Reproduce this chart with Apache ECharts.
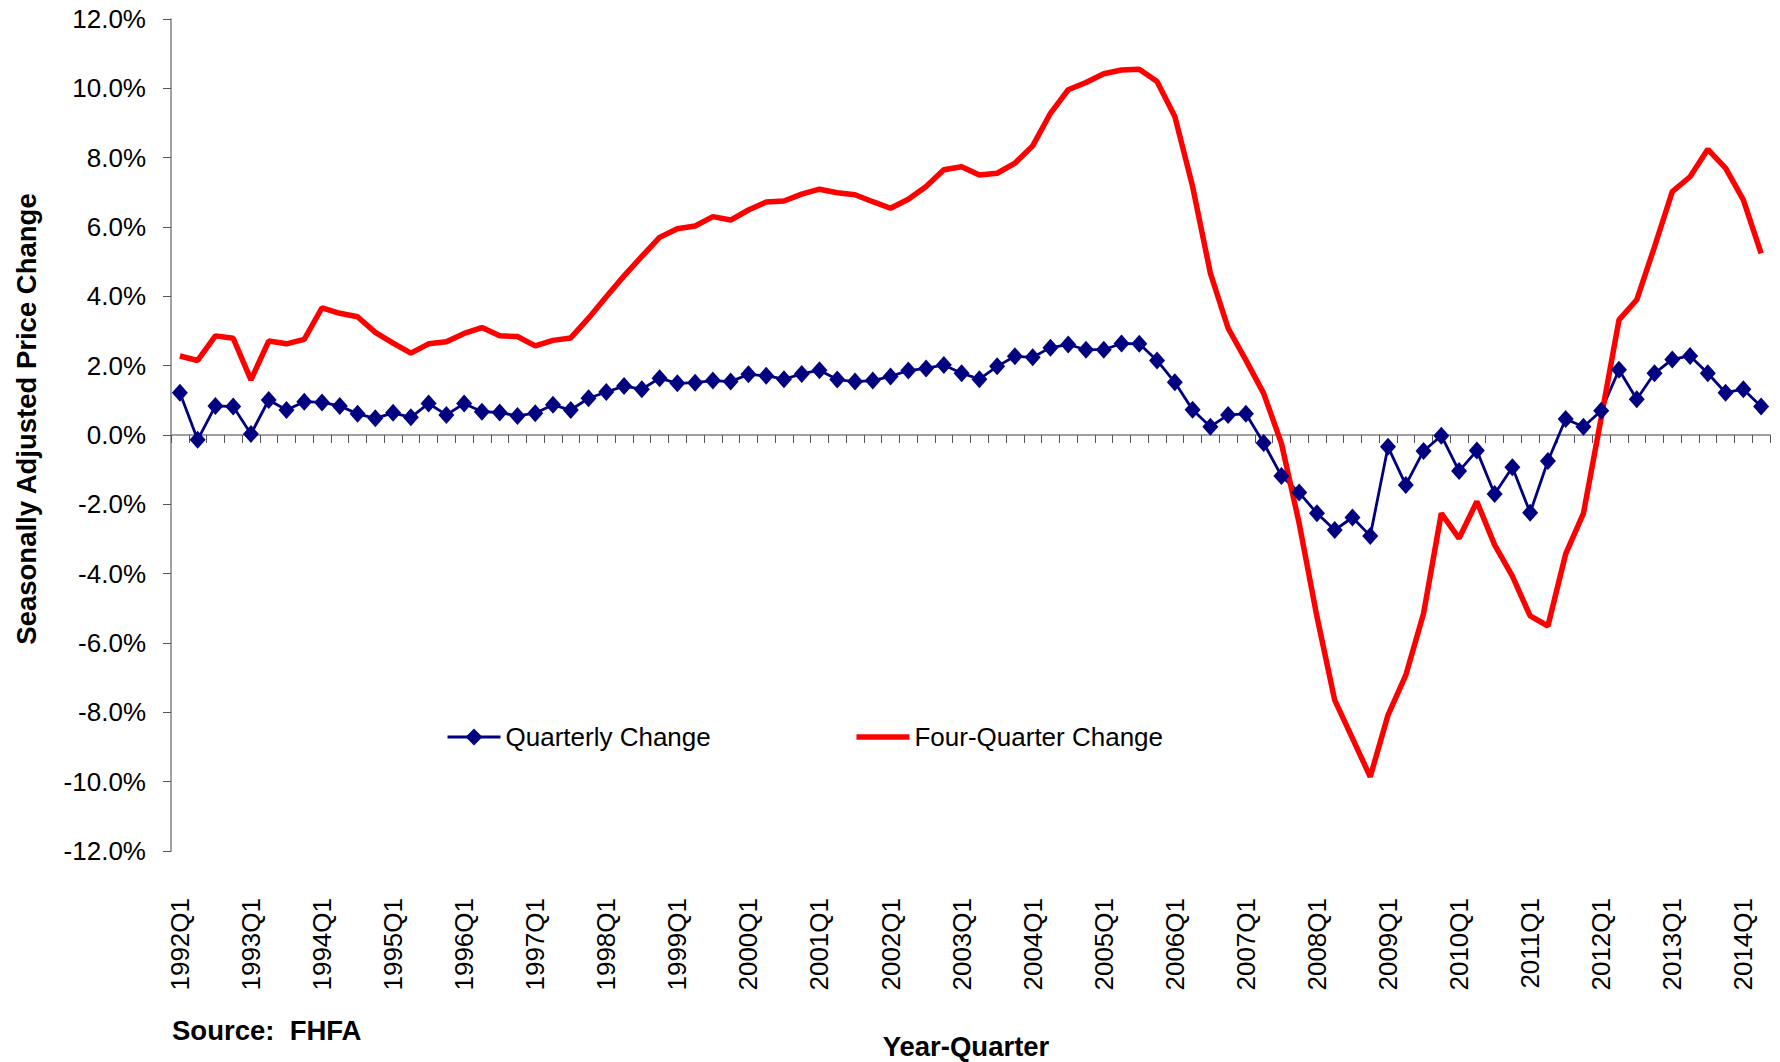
<!DOCTYPE html>
<html>
<head>
<meta charset="utf-8">
<script src="https://cdn.jsdelivr.net/npm/echarts@6/dist/echarts.min.js"></script>
<style>
html,body{margin:0;padding:0;background:#fff;}
#chart{width:1780px;height:1062px;}
</style>
</head>
<body>
<div id="chart"></div>
<script>
// Categories: 1992Q1 .. 2014Q2
var firstYear = 1992;
var lastYear = 2014;
var lastQuarter = 2;
var categories = [];
for (var y = firstYear; y <= lastYear; y++) {
  for (var q = 1; q <= 4; q++) {
    if (y === lastYear && q > lastQuarter) break;
    categories.push(y + 'Q' + q);
  }
}

// Quarterly change (%)
var quarterlyChange = [
  1.22, -0.14, 0.84, 0.82, 0.03, 1.01, 0.72, 0.96, 0.94, 0.84,
  0.61, 0.48, 0.64, 0.51, 0.91, 0.58, 0.91, 0.67, 0.65, 0.55,
  0.63, 0.87, 0.72, 1.06, 1.24, 1.41, 1.32, 1.64, 1.49, 1.51,
  1.57, 1.54, 1.75, 1.71, 1.61, 1.76, 1.87, 1.60, 1.54, 1.57,
  1.69, 1.86, 1.92, 2.02, 1.78, 1.61, 1.98, 2.27, 2.24, 2.52,
  2.61, 2.46, 2.46, 2.64, 2.63, 2.15, 1.52, 0.73, 0.24, 0.58,
  0.61, -0.23, -1.18, -1.66, -2.26, -2.74, -2.38, -2.91, -0.34, -1.44,
  -0.46, -0.02, -1.04, -0.45, -1.70, -0.93, -2.24, -0.75, 0.46, 0.24,
  0.70, 1.88, 1.03, 1.78, 2.18, 2.28, 1.78, 1.22, 1.32, 0.82
];

// Four-quarter change (%)
var fourQuarterChange = [
  2.28, 2.15, 2.86, 2.79, 1.59, 2.71, 2.63, 2.76, 3.67, 3.51,
  3.41, 2.96, 2.65, 2.36, 2.63, 2.69, 2.93, 3.10, 2.86, 2.84,
  2.57, 2.73, 2.80, 3.37, 3.99, 4.59, 5.15, 5.70, 5.95, 6.03,
  6.30, 6.20, 6.49, 6.72, 6.75, 6.95, 7.09, 6.99, 6.93, 6.73,
  6.54, 6.80, 7.17, 7.65, 7.74, 7.50, 7.55, 7.84, 8.34, 9.28,
  9.96, 10.17, 10.42, 10.53, 10.55, 10.20, 9.19, 7.17, 4.67, 3.08,
  2.16, 1.20, -0.24, -2.55, -5.24, -7.65, -8.75, -9.86, -8.08, -6.93,
  -5.15, -2.26, -2.98, -1.92, -3.17, -4.07, -5.22, -5.51, -3.43, -2.26,
  0.50, 3.32, 3.90, 5.43, 7.02, 7.45, 8.24, 7.70, 6.78, 5.24
];

var yMin = -12, yMax = 12, yStep = 2;
var seriesNames = ['Quarterly Change', 'Four-Quarter Change'];
var FONT = 'Liberation Sans, Arial, sans-serif';
var BLUE = '#000080', RED = '#ff0000';

var chart = echarts.init(document.getElementById('chart'), null, {renderer: 'svg'});
chart.setOption({
  animation: false,
  backgroundColor: '#ffffff',
  grid: {left: 171, right: 10, top: 19, bottom: 211, containLabel: false},
  legend: {
    left: 446, top: 724, padding: 0,
    itemWidth: 53, itemHeight: 21, itemGap: 143,
    textStyle: {fontFamily: FONT, fontSize: 26, color: '#000'},
    data: [
      {name: seriesNames[0], lineStyle: {width: 3, color: BLUE}},
      {name: seriesNames[1], lineStyle: {width: 5.5, color: RED},
        itemStyle: {opacity: 0, color: 'transparent', borderWidth: 0}}
    ]
  },
  xAxis: [{
    type: 'category', data: categories, boundaryGap: true, position: 'bottom',
    axisLine: {show: true, onZero: true, lineStyle: {color: '#808080', width: 1.5}},
    axisTick: {show: true, interval: 0, length: 8, inside: false, lineStyle: {color: '#555', width: 1}},
    axisLabel: {show: false},
    splitLine: {show: false}
  }, {
    type: 'category', data: categories, boundaryGap: true, position: 'bottom',
    axisLine: {show: false, onZero: false},
    axisTick: {show: false},
    axisLabel: {show: true, interval: 3, rotate: 90, margin: 47,
      fontFamily: FONT, fontSize: 26, color: '#000'},
    splitLine: {show: false}
  }],
  yAxis: {
    type: 'value', min: yMin, max: yMax, interval: yStep,
    axisLine: {show: true, lineStyle: {color: '#808080', width: 1.5}},
    axisTick: {show: true, length: 8, lineStyle: {color: '#555', width: 1}},
    axisLabel: {margin: 25, fontFamily: FONT, fontSize: 26, color: '#000',
      formatter: function (v) { return v.toFixed(1) + '%'; }},
    splitLine: {show: false}
  },
  series: [{
    name: seriesNames[0], type: 'line', xAxisIndex: 0,
    data: quarterlyChange,
    symbol: 'diamond', symbolSize: [16, 18], showAllSymbol: true,
    itemStyle: {color: BLUE},
    lineStyle: {color: BLUE, width: 2.8}
  }, {
    name: seriesNames[1], type: 'line', xAxisIndex: 0,
    data: fourQuarterChange,
    symbol: 'none', showSymbol: false,
    itemStyle: {color: RED},
    lineStyle: {color: RED, width: 5.5}
  }],
  graphic: [{
    type: 'text', x: 26, y: 419, rotation: Math.PI / 2,
    style: {text: 'Seasonally Adjusted Price Change', fill: '#000',
      font: 'bold 27.5px ' + FONT, textAlign: 'center', textVerticalAlign: 'middle'}
  }, {
    type: 'text', x: 172, y: 1030,
    style: {text: 'Source:  FHFA', fill: '#000',
      font: 'bold 27.5px ' + FONT, textAlign: 'left', textVerticalAlign: 'middle'}
  }, {
    type: 'text', x: 966, y: 1046,
    style: {text: 'Year-Quarter', fill: '#000',
      font: 'bold 27.5px ' + FONT, textAlign: 'center', textVerticalAlign: 'middle'}
  }]
});
</script>
</body>
</html>
